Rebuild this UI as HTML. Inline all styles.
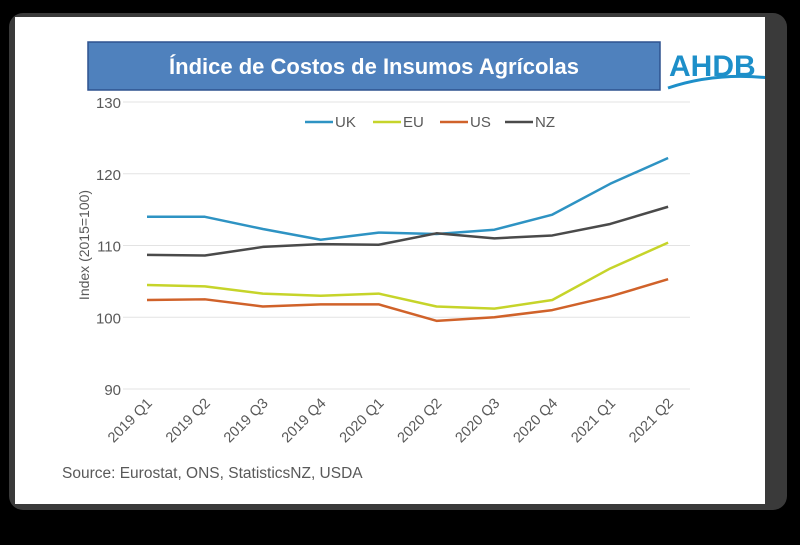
<!DOCTYPE html>
<html><head><meta charset="utf-8"><style>
body{margin:0;background:#000;width:800px;height:540px;overflow:hidden;font-family:"Liberation Sans",sans-serif}
</style></head><body>
<svg width="800" height="540" viewBox="0 0 800 540">
<rect x="0" y="0" width="800" height="540" fill="#000"/>
<rect x="9" y="13" width="778" height="497" rx="14" fill="#3a3a3a"/>
<rect x="15" y="17" width="750" height="487" fill="#fff"/>
<rect x="88" y="42" width="572" height="48" fill="#4f81bd" stroke="#2f528f" stroke-width="1.5"/>
<text x="374" y="74" text-anchor="middle" fill="#fff" font-size="22" font-weight="bold">Índice de Costos de Insumos Agrícolas</text>
<svg x="0" y="0" width="765" height="540">
<text x="669" y="76" fill="#1d8fc9" font-size="30" font-weight="bold">AHDB</text>
<path d="M668 88 Q715 72 770 78" fill="none" stroke="#1d8fc9" stroke-width="3"/>
</svg>
<g id="grid"></g>
<g id="series"></g>
<g id="legend"></g>
<text transform="translate(89,245) rotate(-90)" text-anchor="middle" font-size="14" fill="#595959">Index  (2015=100)</text>
<text x="62" y="478" font-size="15.5" fill="#595959">Source: Eurostat, ONS, StatisticsNZ, USDA</text>
</svg>
<script>
const categories=["2019 Q1","2019 Q2","2019 Q3","2019 Q4","2020 Q1","2020 Q2","2020 Q3","2020 Q4","2021 Q1","2021 Q2"];
const yTicks=[90,100,110,120,130];
const uk=[114,114,112.3,110.8,111.8,111.6,112.2,114.3,118.6,122.2];
const eu=[104.5,104.3,103.3,103,103.3,101.5,101.2,102.4,106.8,110.4];
const us=[102.4,102.5,101.5,101.8,101.8,99.5,100,101,102.9,105.3];
const nz=[108.7,108.6,109.8,110.2,110.1,111.7,111,111.4,113,115.4];
const seriesNames=["UK","EU","US","NZ"];
const seriesColors=["#2e93c3","#c6d42a","#d0622a","#4a4a4a"];
const NS="http://www.w3.org/2000/svg";
function xS(i){return 147+i*57.9;}
function yS(v){return 389-(v-90)*7.175;}
function mk(t,a,p){const e=document.createElementNS(NS,t);for(const k in a)e.setAttribute(k,a[k]);p.appendChild(e);return e;}
const grid=document.getElementById('grid');
yTicks.forEach(v=>{
 const l=mk('line',{x1:123,x2:690,y1:yS(v),y2:yS(v),stroke:'#e3e3e3','stroke-width':1},grid);
 
 
 const t=mk('text',{x:121,y:yS(v)+6,'text-anchor':'end','font-size':15,fill:'#595959'},grid);
 t.textContent=v;
 
 
});
categories.forEach((c,i)=>{
 const t=mk('text',{transform:`translate(${xS(i)+6},${404}) rotate(-45)`,'text-anchor':'end','font-size':14.5,fill:'#595959'},grid);
 t.textContent=c;
 
 
});
const ser=document.getElementById('series');
[uk,eu,us,nz].forEach((d,s)=>{
 const p=mk('polyline',{points:d.map((v,i)=>xS(i)+','+yS(v)).join(' '),fill:'none',stroke:seriesColors[s],'stroke-width':2.5,'stroke-linejoin':'round'},ser);
 
 
});
const leg=document.getElementById('legend');
const lx=[305,373,440,505];
seriesNames.forEach((n,s)=>{
 const g=mk('g',{},leg);
 
 
 mk('line',{x1:lx[s],x2:lx[s]+28,y1:122,y2:122,stroke:seriesColors[s],'stroke-width':2.5},g);
 const t=mk('text',{x:lx[s]+30,y:127,'font-size':15,fill:'#595959'},g);
 t.textContent=n;
});
</script>
</body></html>
